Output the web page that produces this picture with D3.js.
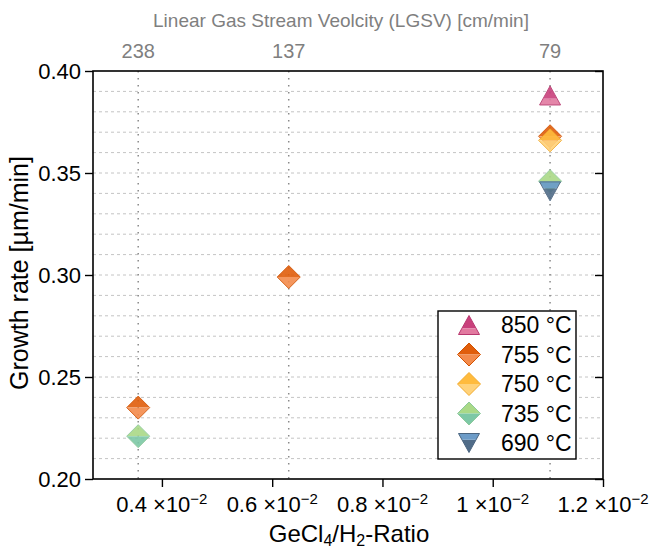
<!DOCTYPE html>
<html>
<head>
<meta charset="utf-8">
<script src="https://cdn.jsdelivr.net/npm/d3@7"></script>
<style>
body { margin: 0; background: #fff; }
svg { font-family: "Liberation Sans", Arial, sans-serif; }
</style>
</head>
<body>
<svg id="chart" width="652" height="550"></svg>
<script>
// data (ratio in units of 1e-2)
var seriesNames = ['850 °C', '755 °C', '750 °C', '735 °C', '690 °C'];
var x850 = [1.104], y850 = [0.388];
var x755 = [0.357, 0.630, 1.104], y755 = [0.235, 0.299, 0.368];
var x750 = [1.104], y750 = [0.366];
var x735 = [0.357, 1.104], y735 = [0.221, 0.346];
var x690 = [1.104], y690 = [0.341];

var lgsvTicks = [238, 137, 79];
var lgsvRatio = [0.357, 0.630, 1.104];
var xTicks = [0.4, 0.6, 0.8, 1.0, 1.2];
var xTickLabels = ['0.4', '0.6', '0.8', '1', '1.2'];
var yTicks = [0.20, 0.25, 0.30, 0.35, 0.40];

var styles = [
	{shape: 'up', dark: '#c9407c', light: '#e27aa0', line: '#b8386f'},
	{shape: 'diamond', dark: '#e05e0c', light: '#f38b4c', line: '#d35200'},
	{shape: 'diamond', dark: '#ffbb3d', light: '#ffd27a', line: '#f2ab2e'},
	{shape: 'diamond', dark: '#aad987', light: '#7dc8a6', line: '#8cc99a'},
	{shape: 'down', dark: '#506c88', light: '#6d9cc8', line: '#4b6580'}
];
var xs = [x850, x755, x750, x735, x690];
var ys = [y850, y755, y750, y735, y690];

var pL = 93, pR = 603, pT = 71, pB = 479;
var svg = d3.select('#chart');

var x = d3.scaleLinear().domain([0.275, 1.2]).range([pL, pR]);
var y = d3.scaleLinear().domain([0.20, 0.40]).range([pB, pT]);

// grid
svg.append('g').selectAll('line')
	.data(d3.range(21, 40).map(function(d){ return d / 100; }))
	.enter().append('line')
	.attr('x1', pL).attr('x2', pR)
	.attr('y1', function(d){ return y(d); }).attr('y2', function(d){ return y(d); })
	.attr('stroke', '#c4c4c4').attr('stroke-width', 1).attr('stroke-dasharray', '3,3');

svg.append('g').selectAll('line')
	.data(lgsvRatio)
	.enter().append('line')
	.attr('x1', function(d){ return x(d); }).attr('x2', function(d){ return x(d); })
	.attr('y1', pT).attr('y2', pB)
	.attr('stroke', '#8a8a8a').attr('stroke-width', 1.5).attr('stroke-dasharray', '1.5,5.5');

// axes
var minorY = d3.range(20, 41).map(function(d){ return d / 100; });
var minorX = d3.range(6, 25).map(function(d){ return d * 0.05; }).filter(function(d){ return d >= 0.275; });

var gl = svg.append('g').attr('transform', 'translate(' + pL + ',0)');
gl.call(d3.axisLeft(y).tickValues(minorY).tickSize(4).tickFormat(''));
gl.call(d3.axisLeft(y).tickValues(yTicks).tickSize(8).tickPadding(4).tickFormat(d3.format('.2f')));

var gr = svg.append('g').attr('transform', 'translate(' + pR + ',0)');
gr.call(d3.axisLeft(y).tickValues(minorY).tickSize(4).tickFormat(''));
gr.call(d3.axisLeft(y).tickValues(yTicks).tickSize(8).tickFormat(''));

var gb = svg.append('g').attr('transform', 'translate(0,' + pB + ')');
gb.call(d3.axisBottom(x).tickValues(minorX).tickSize(4).tickFormat(''));
gb.call(d3.axisBottom(x).tickValues(xTicks).tickSize(8).tickPadding(8).tickFormat(''));

svg.selectAll('.domain').remove();
svg.selectAll('.tick line').attr('stroke', '#000').attr('stroke-width', 1.4);
gl.selectAll('.tick text').attr('font-size', 22).attr('fill', '#000');

// bottom tick labels with x10^-2
var xl = svg.append('g').selectAll('text')
	.data(xTicks).enter().append('text')
	.attr('x', function(d){ return x(d); })
	.attr('y', 512)
	.attr('text-anchor', 'middle')
	.attr('font-size', 22);
xl.append('tspan').text(function(d, i){ return xTickLabels[i] + ' \u00d710'; });
xl.append('tspan').attr('dy', -8).attr('font-size', 15).text('\u22122');

// top axis (LGSV)
svg.append('g').selectAll('text')
	.data(lgsvTicks).enter().append('text')
	.attr('x', function(d, i){ return x(lgsvRatio[i]); })
	.attr('y', 58)
	.attr('text-anchor', 'middle')
	.attr('font-size', 20)
	.attr('fill', '#7f7f7f')
	.text(function(d){ return d; });

svg.append('text')
	.attr('x', (pL + pR) / 2 - 7).attr('y', 27)
	.attr('text-anchor', 'middle')
	.attr('font-size', 19)
	.attr('fill', '#7f7f7f')
	.text('Linear Gas Stream Veolcity (LGSV) [cm/min]');

// frame
svg.append('rect')
	.attr('x', pL).attr('y', pT)
	.attr('width', pR - pL).attr('height', pB - pT)
	.attr('fill', 'none').attr('stroke', '#000').attr('stroke-width', 1.6);

// titles
svg.append('text')
	.attr('transform', 'translate(28,' + ((pT + pB) / 2 - 2) + ') rotate(-90)')
	.attr('text-anchor', 'middle')
	.attr('font-size', 25)
	.text('Growth rate [\u00b5m/min]');

var xt = svg.append('text')
	.attr('x', 349).attr('y', 542)
	.attr('text-anchor', 'middle')
	.attr('font-size', 24);
xt.append('tspan').text('GeCl');
xt.append('tspan').attr('font-size', 16).attr('dy', 4).text('4');
xt.append('tspan').attr('dy', -4).text('/H');
xt.append('tspan').attr('font-size', 16).attr('dy', 4).text('2');
xt.append('tspan').attr('dy', -4).text('-Ratio');

// marker drawing
var marker = function(g, st){
	var w, h;
	if (st.shape === 'diamond') {
		w = 11.5;
		g.append('path').attr('d', 'M' + (-w) + ',0L0,' + (-w) + 'L' + w + ',0Z').attr('fill', st.dark);
		g.append('path').attr('d', 'M' + (-w) + ',0L0,' + w + 'L' + w + ',0Z').attr('fill', st.light);
		g.append('path').attr('d', 'M' + (-w) + ',0L0,' + (-w) + 'L' + w + ',0L0,' + w + 'Z')
			.attr('fill', 'none').attr('stroke', st.line).attr('stroke-width', 1);
	} else {
		w = 10.5; h = 9.5;
		var s = st.shape === 'up' ? 1 : -1;
		var splitY = s * h / 3;
		var hw = w * (2 / 3);
		g.append('path').attr('d', 'M0,' + (-s * h) + 'L' + hw + ',' + splitY + 'L' + (-hw) + ',' + splitY + 'Z').attr('fill', st.dark);
		g.append('path').attr('d', 'M' + (-hw) + ',' + splitY + 'L' + hw + ',' + splitY + 'L' + w + ',' + (s * h) + 'L' + (-w) + ',' + (s * h) + 'Z').attr('fill', st.light);
		g.append('path').attr('d', 'M0,' + (-s * h) + 'L' + w + ',' + (s * h) + 'L' + (-w) + ',' + (s * h) + 'Z')
			.attr('fill', 'none').attr('stroke', st.line).attr('stroke-width', 1);
	}
};

var points = svg.append('g');
xs.forEach(function(xv, si){
	xv.forEach(function(v, i){
		var g = points.append('g')
			.attr('transform', 'translate(' + x(v) + ',' + y(ys[si][i]) + ')')
			.attr('opacity', 0.9);
		marker(g, styles[si]);
	});
});

// legend
var lg = svg.append('g');
lg.append('rect')
	.attr('x', 438).attr('y', 311).attr('width', 138).attr('height', 148)
	.attr('fill', '#fff').attr('stroke', '#000').attr('stroke-width', 1.4);
seriesNames.forEach(function(name, i){
	var yy = 325 + i * 29.5;
	var g = lg.append('g').attr('transform', 'translate(469,' + yy + ')');
	marker(g, styles[i]);
	lg.append('text').attr('x', 501).attr('y', yy + 8)
		.attr('font-size', 23).text(name);
});
</script>
</body>
</html>
